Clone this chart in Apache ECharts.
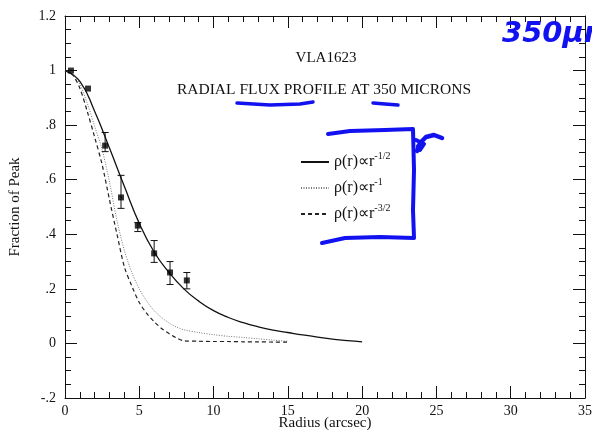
<!DOCTYPE html>
<html>
<head>
<meta charset="utf-8">
<script src="https://cdn.jsdelivr.net/npm/echarts@6/dist/echarts.min.js"></script>
<style>
html,body{margin:0;padding:0;background:#fff;}
#main{width:592px;height:430px;}
</style>
</head>
<body>
<div id="main"></div>
<script>
// 数据
var xTickLabels = ['0','5','10','15','20','25','30','35'];
var yTickLabels = ['-.2','0','.2','.4','.6','.8','1','1.2'];

// r^-1/2 (solid)
var solidX = [0,1,2,3,4,5,6,7,8,9,10,11,12,13,14,15,16,17,18,19,20];
var solidY = [1,0.96,0.85,0.715,0.575,0.44,0.335,0.26,0.2,0.155,0.12,0.095,0.076,0.061,0.049,0.04,0.031,0.023,0.016,0.01,0.006];
// r^-1 (dotted)
var dotX = [0,0.5,1,1.5,2,2.5,3,3.5,4,4.5,5,5.5,6,6.5,7,7.5,8,9,10,11,12,13,14,15];
var dotY = [1,0.99,0.95,0.88,0.795,0.71,0.59,0.45,0.34,0.26,0.2,0.155,0.12,0.095,0.075,0.06,0.05,0.04,0.032,0.026,0.022,0.017,0.012,0.008];
// r^-3/2 (dashed)
var dashX = [0,0.5,1,1.5,2,2.5,3,3.5,4,4.5,5,5.5,6,6.5,7,7.5,8,9,10,11,12,13,14,15];
var dashY = [1,0.985,0.935,0.85,0.755,0.655,0.525,0.4,0.28,0.21,0.15,0.11,0.08,0.055,0.036,0.02,0.01,0.008,0.007,0.007,0.006,0.006,0.005,0.005];

// 观测点
var obsX = [0.4,1.55,2.7,3.77,4.9,6.0,7.07,8.2];
var obsY = [1.0,0.934,0.725,0.535,0.432,0.33,0.26,0.231];
var errLo = [null,null,0.703,0.495,0.41,0.297,0.216,0.2];
var errHi = [null,null,0.773,0.616,0.443,0.377,0.30,0.26];

var exps = {'s05':'-1/2','s1':'-1','s15':'-3/2'};
var FONT = 'Liberation Serif';

function pairs(xs, ys){
    var out = [];
    for(var i=0;i<xs.length;i++){ out.push([xs[i], ys[i]]); }
    return out;
}
var obsData = pairs(obsX, obsY);
var errData = [];
for(var i=0;i<obsX.length;i++){
    if(errLo[i] != null){ errData.push([obsX[i], errLo[i], errHi[i]]); }
}

function axisCommon(split){
    return {
        type:'value',
        axisLine:{show:true,onZero:false,lineStyle:{color:'#111',width:1}},
        axisTick:{show:true,inside:true,length:12,lineStyle:{color:'#111'}},
        minorTick:{show:true,splitNumber:split,length:6,lineStyle:{color:'#111'}},
        splitLine:{show:false},
        minorSplitLine:{show:false}
    };
}

var xBottom = Object.assign(axisCommon(5), {
    min:0, max:35, interval:5, position:'bottom',
    name:'Radius (arcsec)', nameLocation:'middle', nameGap:18, nameMoveOverlap:false,
    nameTextStyle:{fontFamily:FONT,fontSize:15,color:'#111'},
    axisLabel:{fontFamily:FONT,fontSize:14,color:'#111',margin:6,
        formatter:function(v){ return xTickLabels[Math.round(v/5)]; }}
});
var xTop = Object.assign(axisCommon(5), {
    min:0, max:35, interval:5, position:'top', axisLabel:{show:false}
});
var yLeft = Object.assign(axisCommon(4), {
    min:-0.2, max:1.2, interval:0.2, position:'left',
    name:'Fraction of Peak', nameLocation:'middle', nameGap:42, nameRotate:90, nameMoveOverlap:false,
    nameTextStyle:{fontFamily:FONT,fontSize:15,color:'#111'},
    axisLabel:{fontFamily:FONT,fontSize:14,color:'#111',margin:9,
        formatter:function(v){ return yTickLabels[Math.round((v+0.2)/0.2)]; }}
});
var yRight = Object.assign(axisCommon(4), {
    min:-0.2, max:1.2, interval:0.2, position:'right', axisLabel:{show:false}
});

var myChart = echarts.init(document.getElementById('main'));
var blue = '#1212f0';
var option = {
    backgroundColor:'#fff',
    animation:false,
    grid:{left:65,right:7,top:16,bottom:32,outerBoundsMode:'none',containLabel:false},
    title:[
        {text:'VLA1623',left:321,top:46,textAlign:'center',
            textStyle:{fontFamily:FONT,fontSize:15,fontWeight:'normal',color:'#111'}},
        {text:'RADIAL FLUX PROFILE AT 350 MICRONS',left:319,top:77,textAlign:'center',
            textStyle:{fontFamily:FONT,fontSize:15.5,fontWeight:'normal',color:'#111'}}
    ],
    legend:{
        orient:'vertical', left:295, top:146, itemWidth:28, itemHeight:12, itemGap:7,
        data:['s05','s1','s15'],
        itemStyle:{opacity:0},
        formatter:function(name){ return '{b|ρ(r)∝r}{s|' + exps[name] + '}'; },
        textStyle:{
            color:'#111',
            rich:{
                b:{fontFamily:FONT,fontSize:16,color:'#111'},
                s:{fontFamily:FONT,fontSize:10,color:'#111',padding:[0,0,12,0]}
            }
        }
    },
    xAxis:[xBottom, xTop],
    yAxis:[yLeft, yRight],
    series:[
        {name:'s05',type:'line',data:pairs(solidX,solidY),smooth:0.5,symbol:'none',
            lineStyle:{color:'#111',width:1.3,type:'solid'},itemStyle:{color:'#111'}},
        {name:'s1',type:'line',data:pairs(dotX,dotY),smooth:0.3,symbol:'none',
            lineStyle:{color:'#777',width:1,type:[1,1.5]},itemStyle:{color:'#777'}},
        {name:'s15',type:'line',data:pairs(dashX,dashY),smooth:0.3,symbol:'none',
            lineStyle:{color:'#222',width:1.2,type:[4,3]},itemStyle:{color:'#222'}},
        {name:'obs',type:'scatter',data:obsData,symbol:'rect',symbolSize:6,
            itemStyle:{color:'#000'},z:5},
        {name:'err',type:'custom',data:errData,z:4,
            renderItem:function(params, api){
                var x = api.value(0);
                var p1 = api.coord([x, api.value(1)]);
                var p2 = api.coord([x, api.value(2)]);
                var w = 3.5;
                var st = {stroke:'#111',lineWidth:1};
                return {type:'group',children:[
                    {type:'line',shape:{x1:p1[0],y1:p1[1],x2:p2[0],y2:p2[1]},style:st},
                    {type:'line',shape:{x1:p1[0]-w,y1:p1[1],x2:p1[0]+w,y2:p1[1]},style:st},
                    {type:'line',shape:{x1:p2[0]-w,y1:p2[1],x2:p2[0]+w,y2:p2[1]},style:st}
                ]};
            }}
    ],
    // 手写标注
    graphic:[
        {type:'text',left:502,top:20,z:20,style:{text:'350μm',fill:blue,
            font:'italic bold 29px "DejaVu Sans"'}},
        {type:'polyline',z:20,shape:{points:[[237,103],[270,105],[300,104],[313,102]]},
            style:{stroke:blue,lineWidth:3.5,fill:null,lineCap:'round'}},
        {type:'polyline',z:20,shape:{points:[[373,103],[385,104],[398,105]]},
            style:{stroke:blue,lineWidth:3.5,fill:null,lineCap:'round'}},
        {type:'polyline',z:20,shape:{points:[[328,134],[350,131],[385,130],[413,129],[414,170],[413,210],[414,238],[380,237],[345,238],[322,243]]},
            style:{stroke:blue,lineWidth:4,fill:null,lineCap:'round',lineJoin:'round'}},
        {type:'polyline',z:20,shape:{points:[[417,151],[420,143],[426,137],[434,135],[442,138]]},
            style:{stroke:blue,lineWidth:4.5,fill:null,lineCap:'round',lineJoin:'round'}},
        {type:'polyline',z:20,shape:{points:[[416,140],[424,144],[420,150],[418,146]]},
            style:{stroke:blue,lineWidth:4,fill:null,lineCap:'round',lineJoin:'round'}}
    ]
};
myChart.setOption(option);
</script>
</body>
</html>
